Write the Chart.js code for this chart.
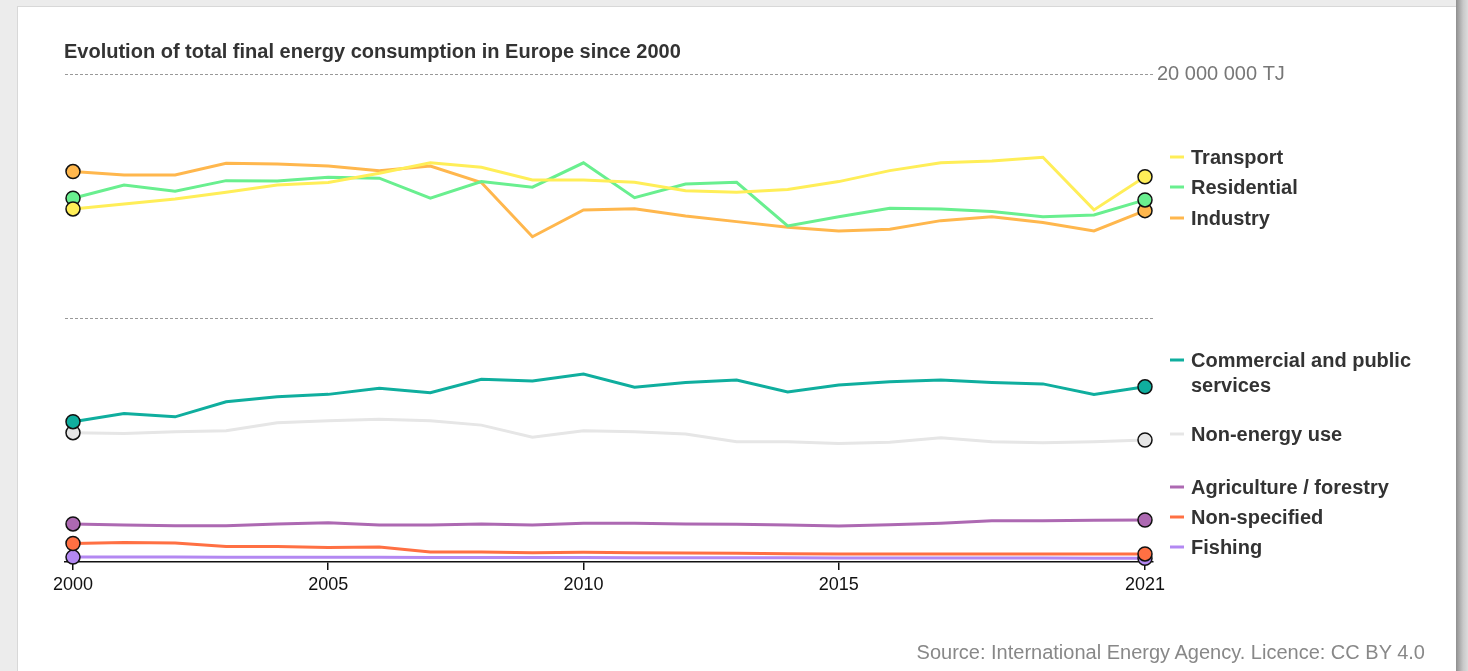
<!DOCTYPE html>
<html>
<head>
<meta charset="utf-8">
<script src="https://cdn.jsdelivr.net/npm/chart.js@4.4.1/dist/chart.umd.min.js"></script>
<style>
  body { margin: 0; background: #ececec; font-family: "Liberation Sans", Arial, sans-serif; overflow: hidden; }
  #card { position: absolute; left: 17px; top: 6px; width: 1438px; height: 700px; background: #fff; border: 1px solid #d8d8d8; }
  #edge { position: absolute; left: 1456px; top: 0; width: 12px; height: 671px; background: linear-gradient(to right, #8f8f8f, #c9c9c9 60%, #dcdcdc); }
  #title { position: absolute; left: 64px; top: 40px; font-size: 20px; font-weight: bold; color: #333; }
  #source { position: absolute; right: 43px; top: 641px; font-size: 20px; color: #888; }
  canvas { position: absolute; left: 18px; top: 7px; }
</style>
</head>
<body>
<div id="card"></div>
<div id="edge"></div>
<canvas id="chart" width="1437" height="664"></canvas>
<div id="title">Evolution of total final energy consumption in Europe since 2000</div>
<div id="source">Source: International Energy Agency. Licence: CC BY 4.0</div>

<script>
// values in million TJ
const years = [2000, 2001, 2002, 2003, 2004, 2005, 2006, 2007, 2008, 2009, 2010,
               2011, 2012, 2013, 2014, 2015, 2016, 2017, 2018, 2019, 2020, 2021];
const tickYears = [2000, 2005, 2010, 2015, 2021];
const gridValues = [10, 20];

const transport   = [14.47, 14.67, 14.88, 15.15, 15.45, 15.55, 15.93, 16.36, 16.18, 15.66, 15.66, 15.56, 15.22, 15.15, 15.27, 15.59, 16.04, 16.36, 16.43, 16.59, 14.43, 15.79];
const residential = [14.91, 15.45, 15.20, 15.63, 15.61, 15.77, 15.73, 14.91, 15.59, 15.36, 16.36, 14.93, 15.49, 15.56, 13.77, 14.15, 14.50, 14.47, 14.36, 14.15, 14.22, 14.84];
const industry    = [16.00, 15.86, 15.86, 16.34, 16.31, 16.23, 16.04, 16.23, 15.55, 13.33, 14.43, 14.48, 14.18, 13.95, 13.72, 13.57, 13.64, 13.99, 14.15, 13.91, 13.57, 14.40];
const commercial  = [5.75, 6.09, 5.95, 6.57, 6.77, 6.87, 7.12, 6.94, 7.49, 7.42, 7.70, 7.16, 7.36, 7.46, 6.97, 7.25, 7.39, 7.46, 7.36, 7.30, 6.87, 7.18];
const nonEnergy   = [5.30, 5.27, 5.34, 5.38, 5.71, 5.79, 5.85, 5.79, 5.61, 5.11, 5.38, 5.34, 5.25, 4.93, 4.93, 4.86, 4.91, 5.09, 4.93, 4.89, 4.93, 5.00];
const agriculture = [1.56, 1.52, 1.49, 1.49, 1.56, 1.61, 1.52, 1.52, 1.56, 1.52, 1.59, 1.59, 1.56, 1.55, 1.52, 1.48, 1.53, 1.59, 1.69, 1.69, 1.71, 1.72];
const nonSpecified = [0.76, 0.80, 0.78, 0.64, 0.64, 0.59, 0.61, 0.41, 0.41, 0.38, 0.40, 0.38, 0.37, 0.36, 0.34, 0.33, 0.33, 0.33, 0.33, 0.33, 0.33, 0.33];
const fishing     = [0.20, 0.20, 0.20, 0.19, 0.19, 0.19, 0.19, 0.18, 0.18, 0.18, 0.18, 0.17, 0.17, 0.17, 0.17, 0.16, 0.16, 0.16, 0.16, 0.16, 0.15, 0.15];

const seriesNames = ["Transport", "Residential", "Industry", "Commercial and public services",
                     "Non-energy use", "Agriculture / forestry", "Non-specified", "Fishing"];
const seriesValues = [transport, residential, industry, commercial, nonEnergy, agriculture, nonSpecified, fishing];
const seriesColors = ["#ffee58", "#69ef8f", "#ffb74d", "#0fae9e", "#e6e6e6", "#ad69b2", "#ff7043", "#b388f2"];

// legend text lines and their vertical spot (canvas px) - layout only
const legendLines = [["Transport"], ["Residential"], ["Industry"], ["Commercial and public", "services"],
                     ["Non-energy use"], ["Agriculture / forestry"], ["Non-specified"], ["Fishing"]];
const legendY = [150, 180, 211, 353, 427, 480, 510, 540];

const FONT = '"Liberation Sans", Arial, sans-serif';

const sideLegend = {
  id: "sideLegend",
  afterDraw(chart) {
    const ctx = chart.ctx;
    ctx.save();
    ctx.font = "bold 20px " + FONT;
    ctx.textBaseline = "middle";
    legendLines.forEach((lines, i) => {
      let y = legendY[i];
      ctx.strokeStyle = seriesColors[i];
      ctx.lineWidth = 3;
      ctx.beginPath();
      ctx.moveTo(1152, y);
      ctx.lineTo(1166, y);
      ctx.stroke();
      ctx.fillStyle = "#333";
      lines.forEach((t, k) => ctx.fillText(t, 1173, y + 1 + k * 25));
    });
    ctx.restore();
  }
};

function endPoints(c) {
  return (c.dataIndex === 0 || c.dataIndex === years.length - 1) ? 7 : 0;
}

const datasets = seriesNames.map((name, i) => ({
  label: name,
  data: years.map((yr, k) => ({x: yr, y: seriesValues[i][k]})),
  borderColor: seriesColors[i],
  backgroundColor: seriesColors[i],
  borderWidth: 3,
  tension: 0,
  pointRadius: endPoints,
  pointHoverRadius: endPoints,
  pointBorderColor: "#111",
  pointBorderWidth: 1.5,
  clip: false
}));

new Chart(document.getElementById("chart"), {
  type: "line",
  data: {datasets},
  options: {
    responsive: false,
    animation: false,
    devicePixelRatio: 1,
    layout: {padding: {left: 47, right: 0, top: 67, bottom: 69}},
    plugins: {legend: {display: false}, tooltip: {enabled: false}},
    scales: {
      x: {
        type: "linear",
        min: 2000 - 8 / 51.05,
        max: 2021 + 8 / 51.05,
        afterBuildTicks: axis => { axis.ticks = tickYears.map(v => ({value: v})); },
        afterFit: axis => { axis.height = 40; },
        border: {display: true, color: "#111", width: 1.5},
        grid: {drawOnChartArea: false, drawTicks: true, tickLength: 8, color: "#111", lineWidth: 1.5},
        ticks: {
          autoSkip: false, maxRotation: 0, padding: 4,
          color: "#111", font: {family: FONT, size: 18},
          callback: v => String(v)
        }
      },
      y: {
        position: "right",
        min: 0,
        max: 20,
        afterBuildTicks: axis => { axis.ticks = gridValues.map(v => ({value: v})); },
        afterFit: axis => { axis.width = 302; },
        border: {display: false, dash: [3, 2]},
        grid: {drawTicks: false, color: "#999", lineWidth: 1},
        ticks: {
          padding: 4, color: "#777", font: {family: FONT, size: 20},
          callback: v => v === 20 ? "20 000 000 TJ" : ""
        }
      }
    }
  },
  plugins: [sideLegend]
});
</script>
</body>
</html>
